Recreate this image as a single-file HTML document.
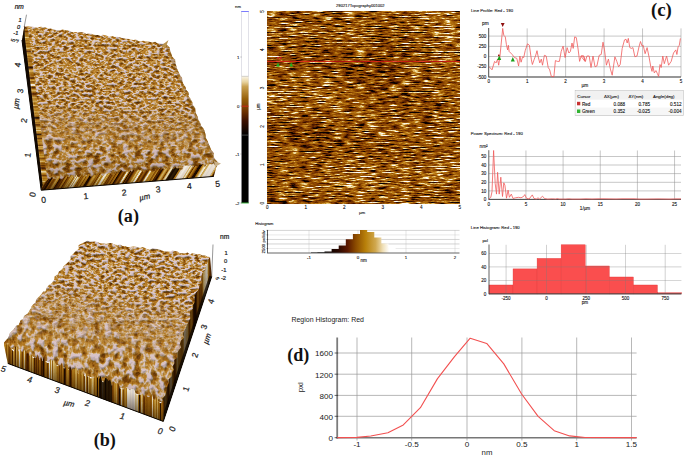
<!DOCTYPE html>
<html lang="en"><head><meta charset="utf-8"><title>AFM figure</title>
<style>
html,body{margin:0;padding:0;background:#fff;}
body{width:685px;height:464px;overflow:hidden;}
svg{display:block;font-family:"Liberation Sans", sans-serif;}
</style></head><body>
<svg width="685" height="464" viewBox="0 0 685 464">
<rect width="685" height="464" fill="#fff"/>
<defs>
<!-- 3D surface grain -->
<filter id="grain" x="0" y="0" width="100%" height="100%" color-interpolation-filters="sRGB">
  <feTurbulence type="fractalNoise" baseFrequency="0.25 0.42" numOctaves="3" seed="7" result="n"/>
  <feColorMatrix in="n" type="matrix" values="2.3 0 0 0 -0.59  2.3 0 0 0 -0.59  2.3 0 0 0 -0.59  0 0 0 0 1" result="g"/>
  <feComponentTransfer in="g" result="pal">
    <feFuncR type="table" tableValues="0.46 0.60 0.70 0.75 0.82 0.88 0.87"/>
    <feFuncG type="table" tableValues="0.25 0.36 0.47 0.53 0.68 0.80 0.79"/>
    <feFuncB type="table" tableValues="0.03 0.07 0.13 0.19 0.45 0.77 0.82"/>
    <feFuncA type="table" tableValues="1 1"/>
  </feComponentTransfer>
  <feColorMatrix in="n" type="matrix" values="0 0 0 0 1  0 0 0 0 1  0 0 0 0 1  1 0 0 0 0" result="h"/>
  <feDiffuseLighting in="h" surfaceScale="1.8" diffuseConstant="1.1" lighting-color="#fff" result="lit">
    <feDistantLight azimuth="250" elevation="68"/>
  </feDiffuseLighting>
  <feBlend in="pal" in2="lit" mode="multiply"/>
</filter>
<filter id="grainB" x="0" y="0" width="100%" height="100%" color-interpolation-filters="sRGB">
  <feTurbulence type="fractalNoise" baseFrequency="0.23 0.38" numOctaves="3" seed="23" result="n"/>
  <feColorMatrix in="n" type="matrix" values="2.3 0 0 0 -0.55  2.3 0 0 0 -0.55  2.3 0 0 0 -0.55  0 0 0 0 1" result="g"/>
  <feComponentTransfer in="g" result="pal">
    <feFuncR type="table" tableValues="0.46 0.60 0.70 0.75 0.82 0.88 0.87"/>
    <feFuncG type="table" tableValues="0.25 0.36 0.47 0.53 0.68 0.80 0.79"/>
    <feFuncB type="table" tableValues="0.03 0.07 0.13 0.19 0.45 0.77 0.82"/>
    <feFuncA type="table" tableValues="1 1"/>
  </feComponentTransfer>
  <feColorMatrix in="n" type="matrix" values="0 0 0 0 1  0 0 0 0 1  0 0 0 0 1  1 0 0 0 0" result="h"/>
  <feDiffuseLighting in="h" surfaceScale="1.8" diffuseConstant="1.1" lighting-color="#fff" result="lit">
    <feDistantLight azimuth="250" elevation="68"/>
  </feDiffuseLighting>
  <feBlend in="pal" in2="lit" mode="multiply"/>
</filter>
<filter id="grainC" x="0" y="0" width="100%" height="100%" color-interpolation-filters="sRGB">
  <feTurbulence type="fractalNoise" baseFrequency="0.17 0.13" numOctaves="3" seed="31" result="n"/>
  <feColorMatrix in="n" type="matrix" values="2.3 0 0 0 -0.55  2.3 0 0 0 -0.55  2.3 0 0 0 -0.55  0 0 0 0 1" result="g"/>
  <feComponentTransfer in="g" result="pal">
    <feFuncR type="table" tableValues="0.46 0.60 0.70 0.75 0.82 0.88 0.87"/>
    <feFuncG type="table" tableValues="0.25 0.36 0.47 0.53 0.68 0.80 0.79"/>
    <feFuncB type="table" tableValues="0.03 0.07 0.13 0.19 0.45 0.77 0.82"/>
    <feFuncA type="table" tableValues="1 1"/>
  </feComponentTransfer>
  <feColorMatrix in="n" type="matrix" values="0 0 0 0 1  0 0 0 0 1  0 0 0 0 1  1 0 0 0 0" result="h"/>
  <feDiffuseLighting in="h" surfaceScale="2.6" diffuseConstant="1.1" lighting-color="#fff" result="lit">
    <feDistantLight azimuth="250" elevation="68"/>
  </feDiffuseLighting>
  <feBlend in="pal" in2="lit" mode="multiply"/>
</filter>
<filter id="grainD" x="0" y="0" width="100%" height="100%" color-interpolation-filters="sRGB">
  <feTurbulence type="fractalNoise" baseFrequency="0.17 0.22" numOctaves="3" seed="41" result="n"/>
  <feColorMatrix in="n" type="matrix" values="2.3 0 0 0 -0.59  2.3 0 0 0 -0.59  2.3 0 0 0 -0.59  0 0 0 0 1" result="g"/>
  <feComponentTransfer in="g" result="pal">
    <feFuncR type="table" tableValues="0.46 0.60 0.70 0.75 0.82 0.88 0.87"/>
    <feFuncG type="table" tableValues="0.25 0.36 0.47 0.53 0.68 0.80 0.79"/>
    <feFuncB type="table" tableValues="0.03 0.07 0.13 0.19 0.45 0.77 0.82"/>
    <feFuncA type="table" tableValues="1 1"/>
  </feComponentTransfer>
  <feColorMatrix in="n" type="matrix" values="0 0 0 0 1  0 0 0 0 1  0 0 0 0 1  1 0 0 0 0" result="h"/>
  <feDiffuseLighting in="h" surfaceScale="2.2" diffuseConstant="1.1" lighting-color="#fff" result="lit">
    <feDistantLight azimuth="250" elevation="68"/>
  </feDiffuseLighting>
  <feBlend in="pal" in2="lit" mode="multiply"/>
</filter>
<linearGradient id="mgB" x1="0.55" y1="0" x2="0.35" y2="1">
  <stop offset="0.30" stop-color="#fff" stop-opacity="0"/>
  <stop offset="0.68" stop-color="#fff" stop-opacity="1"/>
</linearGradient>
<mask id="maskB"><rect x="0" y="236" width="216" height="172" fill="url(#mgB)"/></mask>
<linearGradient id="mgA" x1="0.5" y1="0" x2="0.45" y2="1">
  <stop offset="0.5" stop-color="#fff" stop-opacity="0"/>
  <stop offset="0.78" stop-color="#fff" stop-opacity="1"/>
</linearGradient>
<mask id="maskA"><rect x="18" y="20" width="206" height="170" fill="url(#mgA)"/></mask>
<!-- 2D streaky image -->
<filter id="streak" x="0" y="0" width="100%" height="100%" color-interpolation-filters="sRGB">
  <feTurbulence type="fractalNoise" baseFrequency="0.09 0.8" numOctaves="4" seed="11" result="n0"/>
  <feColorMatrix in="n0" type="matrix" values="1 0 0 0 0  1 0 0 0 0  1 0 0 0 0  0 0 0 0 1" result="n"/>
  <feTurbulence type="fractalNoise" baseFrequency="0.012 0.025" numOctaves="2" seed="5" result="lo0"/>
  <feColorMatrix in="lo0" type="matrix" values="1 0 0 0 0  1 0 0 0 0  1 0 0 0 0  0 0 0 0 1" result="lo"/>
  <feComposite in="n" in2="lo" operator="arithmetic" k1="0" k2="1" k3="0.2" k4="-0.1" result="m"/>
  <feColorMatrix in="m" type="matrix" values="1.75 0 0 0 -0.425  1.75 0 0 0 -0.425  1.75 0 0 0 -0.425  0 0 0 0 1" result="g"/>
  <feComponentTransfer in="g">
    <feFuncR type="table" tableValues="0.03 0.30 0.50 0.61 0.75 0.94 1"/>
    <feFuncG type="table" tableValues="0.00 0.09 0.23 0.34 0.50 0.85 1"/>
    <feFuncB type="table" tableValues="0.00 0.00 0.00 0.02 0.09 0.58 1"/>
    <feFuncA type="table" tableValues="1 1"/>
  </feComponentTransfer>
</filter>
<!-- vertical striped wall -->
<filter id="wall" x="0" y="0" width="100%" height="100%" color-interpolation-filters="sRGB">
  <feTurbulence type="fractalNoise" baseFrequency="0.22 0.002" numOctaves="2" seed="3" result="n"/>
  <feColorMatrix in="n" type="matrix" values="2.4 0 0 0 -0.72  2.4 0 0 0 -0.72  2.4 0 0 0 -0.72  0 0 0 0 1" result="g"/>
  <feComponentTransfer in="g">
    <feFuncR type="table" tableValues="0.10 0.36 0.56 0.68 0.76 0.88 0.98"/>
    <feFuncG type="table" tableValues="0.04 0.16 0.33 0.46 0.56 0.76 0.96"/>
    <feFuncB type="table" tableValues="0.00 0.00 0.03 0.08 0.16 0.45 0.90"/>
    <feFuncA type="table" tableValues="1 1"/>
  </feComponentTransfer>
</filter>
<filter id="wallH" x="0" y="0" width="100%" height="100%" color-interpolation-filters="sRGB">
  <feTurbulence type="fractalNoise" baseFrequency="0.002 0.30" numOctaves="2" seed="9" result="n"/>
  <feColorMatrix in="n" type="matrix" values="2.4 0 0 0 -0.72  2.4 0 0 0 -0.72  2.4 0 0 0 -0.72  0 0 0 0 1" result="g"/>
  <feComponentTransfer in="g">
    <feFuncR type="table" tableValues="0.10 0.36 0.56 0.68 0.76 0.88 0.98"/>
    <feFuncG type="table" tableValues="0.04 0.16 0.33 0.46 0.56 0.76 0.96"/>
    <feFuncB type="table" tableValues="0.00 0.00 0.03 0.08 0.16 0.45 0.90"/>
    <feFuncA type="table" tableValues="1 1"/>
  </feComponentTransfer>
</filter>
<linearGradient id="cbar" x1="0" y1="0" x2="0" y2="1">
  <stop offset="0" stop-color="#fbf6ea"/>
  <stop offset="0.10" stop-color="#e8d4a0"/>
  <stop offset="0.18" stop-color="#c8a050"/>
  <stop offset="0.39" stop-color="#96600a"/>
  <stop offset="0.60" stop-color="#6e3200"/>
  <stop offset="0.76" stop-color="#3c1000"/>
  <stop offset="1" stop-color="#000000"/>
</linearGradient>
<linearGradient id="hbar" x1="0" y1="0" x2="1" y2="0">
  <stop offset="0.14" stop-color="#000"/>
  <stop offset="0.30" stop-color="#2a0800"/>
  <stop offset="0.40" stop-color="#5a1800"/>
  <stop offset="0.49" stop-color="#8a4a00"/>
  <stop offset="0.60" stop-color="#b8800a"/>
  <stop offset="0.71" stop-color="#d0a850"/>
  <stop offset="0.79" stop-color="#f0e0b8"/>
  <stop offset="0.86" stop-color="#fff"/>
</linearGradient>
<linearGradient id="shadeA" x1="0" y1="0" x2="0" y2="1">
  <stop offset="0" stop-color="#5a3000" stop-opacity="0"/>
  <stop offset="0.75" stop-color="#5a3000" stop-opacity="0.05"/>
  <stop offset="1" stop-color="#3a1a00" stop-opacity="0.35"/>
</linearGradient>
<linearGradient id="rwshade" x1="0" y1="0" x2="0" y2="1">
  <stop offset="0" stop-color="#1a0a00" stop-opacity="0.15"/>
  <stop offset="0.35" stop-color="#1a0a00" stop-opacity="0.55"/>
  <stop offset="1" stop-color="#0c0400" stop-opacity="0.8"/>
</linearGradient>
<linearGradient id="wallshade" x1="0" y1="0" x2="0" y2="1">
  <stop offset="0" stop-color="#2a1200" stop-opacity="0"/>
  <stop offset="0.5" stop-color="#2a1200" stop-opacity="0.1"/>
  <stop offset="1" stop-color="#140800" stop-opacity="0.75"/>
</linearGradient>
<linearGradient id="shadeB" x1="0.6" y1="0" x2="0.3" y2="1">
  <stop offset="0" stop-color="#5a3000" stop-opacity="0"/>
  <stop offset="0.7" stop-color="#5a3000" stop-opacity="0.04"/>
  <stop offset="1" stop-color="#3a1a00" stop-opacity="0.25"/>
</linearGradient>
<clipPath id="clipA"><polygon points="24.4,26.0 26.8,25.9 29.2,26.5 31.5,26.3 33.9,27.0 36.3,27.5 38.7,27.2 41.0,26.7 43.4,27.2 45.8,27.6 48.2,28.8 50.5,28.6 52.9,29.3 55.3,29.8 57.7,30.2 60.0,30.4 62.4,29.5 64.8,30.0 67.2,30.3 69.6,30.7 71.9,32.0 74.3,32.1 76.7,31.9 79.1,32.0 81.4,32.2 83.8,32.4 86.2,34.0 88.6,33.5 90.9,33.7 93.3,34.3 95.7,35.1 98.1,35.0 100.5,35.9 102.8,34.8 105.2,35.3 107.6,36.1 110.0,36.8 112.3,36.1 114.7,37.0 117.1,36.8 119.5,37.2 121.8,38.0 124.2,38.5 126.6,38.5 129.0,39.1 131.3,39.8 133.7,39.9 136.1,39.4 138.5,41.0 140.9,41.3 143.2,40.7 145.6,41.5 148.0,41.4 150.4,41.9 152.7,42.4 155.1,41.6 157.5,43.2 159.9,43.2 162.2,43.8 164.6,43.5 167.0,44.8 169.8,47.8 170.2,50.8 171.3,53.8 172.2,56.8 175.2,59.8 175.3,62.8 176.2,65.8 177.1,68.8 178.4,71.8 179.8,74.8 182.1,77.9 182.3,80.9 183.3,83.9 185.5,86.9 186.2,89.9 189.0,92.9 188.5,95.9 190.6,98.9 192.3,101.9 192.8,104.9 195.2,107.9 195.5,110.9 196.2,113.9 197.8,116.9 198.3,119.9 200.3,122.9 201.2,125.9 203.8,128.9 204.9,131.9 205.5,134.9 205.8,138.0 207.5,141.0 208.7,144.0 209.9,147.0 211.2,150.0 213.7,153.0 213.5,156.0 214.6,159.0 217.6,162.0 217.0,165.0 217.0,167.0 43.3,182.0"/></clipPath>
<clipPath id="clipAw1"><polygon points="43.3,179.0 45.0,177.4 46.8,180.5 48.5,178.4 50.2,178.9 52.0,177.0 53.7,179.0 55.5,179.2 57.2,177.9 58.9,175.6 60.7,179.3 62.4,179.1 64.1,176.7 65.9,175.4 67.6,176.9 69.4,177.1 71.1,175.1 72.8,175.3 74.6,178.3 76.3,174.6 78.0,177.4 79.8,176.8 81.5,174.3 83.3,176.0 85.0,174.2 86.7,176.8 88.5,173.6 90.2,176.5 91.9,176.5 93.7,174.8 95.4,175.4 97.1,174.3 98.9,172.6 100.6,173.3 102.4,176.2 104.1,174.8 105.8,173.6 107.6,173.7 109.3,172.5 111.0,173.4 112.8,175.1 114.5,174.2 116.3,171.4 118.0,173.4 119.7,171.4 121.5,170.3 123.2,171.8 124.9,171.4 126.7,171.6 128.4,172.7 130.1,169.9 131.9,171.8 133.6,169.6 135.4,172.2 137.1,169.6 138.8,169.8 140.6,170.4 142.3,171.0 144.0,172.2 145.8,169.3 147.5,170.9 149.3,169.4 151.0,171.6 152.7,171.7 154.5,171.3 156.2,168.2 157.9,170.8 159.7,167.5 161.4,169.7 163.2,168.7 164.9,169.5 166.6,168.2 168.4,170.3 170.1,168.8 171.8,166.4 173.6,169.5 175.3,167.3 177.0,168.6 178.8,168.6 180.5,169.6 182.3,169.5 184.0,165.3 185.7,165.7 187.5,165.6 189.2,165.5 190.9,164.7 192.7,168.0 194.4,166.0 196.2,166.3 197.9,165.8 199.6,164.0 201.4,164.7 203.1,163.6 204.8,167.2 206.6,164.7 208.3,164.5 210.1,164.0 211.8,164.4 213.5,163.3 215.3,165.5 217.0,164.5 213.8,176.4 41.2,190.2"/></clipPath>

<clipPath id="clipB"><polygon points="85.0,242.0 87.5,240.4 90.0,241.8 92.5,241.7 95.0,241.4 97.5,242.1 100.0,243.2 102.5,243.6 105.0,243.7 107.5,243.4 110.0,243.0 112.5,243.5 115.0,244.8 117.5,245.1 120.0,244.6 122.5,245.9 125.0,246.0 127.5,247.1 130.0,247.0 132.5,246.6 135.0,246.6 137.5,247.1 140.0,247.9 142.5,247.0 145.0,248.0 147.5,249.2 150.0,249.7 152.5,248.2 155.0,248.4 157.5,248.9 160.0,249.8 162.5,250.7 165.0,251.4 167.5,251.4 170.0,251.8 172.5,250.6 175.0,251.0 177.5,251.5 180.0,253.1 182.5,253.2 185.0,253.4 187.5,252.4 190.0,254.3 192.5,253.3 195.0,253.8 197.5,254.4 200.0,253.9 202.5,255.6 205.0,255.4 207.5,256.4 210.0,257.0 166.0,404.0 4.0,346.0 4.0,342.8 6.7,339.6 8.3,337.7 10.0,333.1 12.4,330.7 13.8,329.5 16.1,325.7 18.7,324.9 20.7,320.3 23.5,318.4 24.0,315.9 28.2,313.2 29.7,310.1 30.7,308.8 32.1,305.4 35.6,302.3 36.2,299.6 38.2,297.6 40.7,295.1 43.2,291.5 45.6,291.2 46.8,287.6 49.2,284.7 52.0,283.1 54.4,279.0 54.4,276.7 58.4,273.4 58.6,271.9 62.7,268.5 63.2,266.4 66.7,263.6 68.7,261.6 70.5,259.3 70.6,255.7 72.8,254.3 75.9,250.9 78.8,248.8 78.5,245.3 80.8,243.9 85.0,242.0"/></clipPath>
<clipPath id="clipBw1"><polygon points="4.0,345.0 5.6,344.3 7.2,344.3 8.8,345.4 10.4,347.7 12.1,349.9 13.7,351.5 15.3,346.5 16.9,346.8 18.5,351.6 20.1,349.1 21.7,351.9 23.3,351.0 24.9,350.2 26.5,354.1 28.1,352.8 29.8,355.7 31.4,354.6 33.0,358.3 34.6,357.3 36.2,357.8 37.8,354.3 39.4,359.9 41.0,356.5 42.6,361.3 44.2,356.1 45.9,362.0 47.5,363.0 49.1,362.8 50.7,358.8 52.3,361.0 53.9,360.2 55.5,363.2 57.1,366.3 58.7,365.4 60.3,365.2 62.0,362.4 63.6,368.2 65.2,368.3 66.8,365.0 68.4,370.3 70.0,365.4 71.6,370.2 73.2,369.1 74.8,369.1 76.5,368.0 78.1,373.9 79.7,369.6 81.3,374.4 82.9,371.5 84.5,376.5 86.1,372.4 87.7,376.7 89.3,377.1 90.9,378.8 92.6,377.5 94.2,378.0 95.8,374.4 97.4,377.4 99.0,379.5 100.6,376.1 102.2,381.9 103.8,382.2 105.4,378.0 107.0,378.6 108.7,380.9 110.3,379.6 111.9,386.0 113.5,381.2 115.1,383.0 116.7,383.8 118.3,383.3 119.9,388.6 121.5,388.5 123.1,389.5 124.8,387.9 126.4,388.0 128.0,388.6 129.6,390.3 131.2,388.5 132.8,388.4 134.4,389.5 136.0,394.7 137.6,394.5 139.2,394.7 140.8,395.1 142.5,393.5 144.1,396.5 145.7,394.4 147.3,396.7 148.9,397.2 150.5,395.5 152.1,394.6 153.7,400.0 155.3,399.6 156.9,396.1 158.6,401.6 160.2,403.3 161.8,402.8 163.4,399.3 165.0,402.0 163.3,421.4 7.8,363.4"/></clipPath>
<clipPath id="clipBw2"><polygon points="164.0,402.0 162.2,398.8 165.3,395.6 166.1,392.3 166.5,389.1 167.5,385.9 169.0,382.7 168.6,379.4 171.6,376.2 171.8,373.0 173.9,369.8 172.6,366.6 174.5,363.3 174.3,360.1 177.9,356.9 177.2,353.7 178.6,350.4 181.2,347.2 179.9,344.0 180.8,340.8 184.2,337.6 182.6,334.3 184.1,331.1 185.7,327.9 186.9,324.7 188.8,321.4 190.4,318.2 190.2,315.0 190.0,311.8 193.0,308.6 193.2,305.3 194.8,302.1 194.6,298.9 194.9,295.7 196.1,292.4 198.9,289.2 199.5,286.0 201.8,282.8 201.3,279.6 201.3,276.3 202.4,273.1 205.7,269.9 205.6,266.7 207.7,263.4 207.7,260.2 210.0,257.0 211.7,276.5 163.3,421.4"/></clipPath>
</defs>

<g id="panelA">
<g clip-path="url(#clipA)"><rect x="18" y="20" width="206" height="170" filter="url(#grain)"/><g mask="url(#maskA)"><rect x="18" y="20" width="206" height="170" filter="url(#grainD)"/></g><rect x="18" y="20" width="206" height="170" fill="url(#shadeA)"/></g>
<g clip-path="url(#clipAw1)"><g transform="translate(0 192) skewX(-32) translate(0 -192) scale(0.62 1)"><rect x="30" y="160" width="380" height="36" filter="url(#wall)"/></g><g transform="translate(0 192) skewX(-32) translate(0 -192)"><rect x="158" y="160" width="7" height="36" fill="#080300" opacity="0.8"/><rect x="167" y="160" width="7" height="36" fill="#fff" opacity="0.85"/><rect x="192" y="160" width="8" height="36" fill="#fff" opacity="0.85"/></g><rect x="20" y="160" width="230" height="36" fill="url(#wallshade)"/></g>
<clipPath id="clipAw2"><polygon points="24.4,26 28.2,30 47.3,180 43.3,183 41.2,190.2 22,40"/></clipPath>
<g clip-path="url(#clipAw2)"><rect x="20" y="24" width="30" height="170" filter="url(#wallH)" opacity="0.85"/></g>
<polygon points="24.4,26 24.9,38 42.6,184 41.2,190.2 22,40" fill="#120802"/>
<polyline points="22,40 41.2,190.2 213.8,176.4" fill="none" stroke="#0a0500" stroke-width="1"/>
<g clip-path="url(#clipA)"><polyline points="167,44.8 217,165" fill="none" stroke="#8a5a14" stroke-width="4" opacity="0.45"/></g>
<polygon points="161,46 168.5,40 165.5,48" fill="#b8924e"/>
<polygon points="214,161 221,163.5 215,167" fill="#c8b088"/>
</g>
<line x1="26.5" y1="14.7" x2="24.2" y2="27" stroke="#333" stroke-width="0.5" />
<text x="19.3" y="8.58" font-size="6.6" text-anchor="middle" fill="#222" font-style="italic" stroke="#222" stroke-width="0.22">nm</text>
<text x="20" y="21.72" font-size="5.6" text-anchor="middle" fill="#222" font-style="italic" stroke="#222" stroke-width="0.22">1</text>
<text x="18.5" y="28.52" font-size="5.6" text-anchor="middle" fill="#222" font-style="italic" stroke="#222" stroke-width="0.22">0</text>
<text x="15.8" y="35.02" font-size="5.6" text-anchor="middle" fill="#222" font-style="italic" stroke="#222" stroke-width="0.22">-1</text>
<text x="13" y="42.32" font-size="5.6" text-anchor="middle" fill="#222" transform="rotate(-75 13 40.3)" stroke="#222" stroke-width="0.22">5</text>
<text x="17" y="42.51" font-size="4.2" text-anchor="middle" fill="#222" transform="rotate(-75 17 41)" stroke="#222" stroke-width="0.22">-2</text>
<text x="17.5" y="67.79" font-size="8.3" text-anchor="middle" fill="#222" transform="rotate(-82 17.5 64.8)" stroke="#222" stroke-width="0.22">4</text>
<text x="20.2" y="93.99" font-size="8.3" text-anchor="middle" fill="#222" transform="rotate(-82 20.2 91)" stroke="#222" stroke-width="0.22">3</text>
<text x="16.2" y="106.31" font-size="7.8" text-anchor="middle" fill="#222" font-style="italic" transform="rotate(-82 16.2 103.5)" stroke="#222" stroke-width="0.22">µm</text>
<text x="23.75" y="123.59" font-size="8.3" text-anchor="middle" fill="#222" transform="rotate(-82 23.75 120.6)" stroke="#222" stroke-width="0.22">2</text>
<text x="27.6" y="157.99" font-size="8.3" text-anchor="middle" fill="#222" transform="rotate(-82 27.6 155)" stroke="#222" stroke-width="0.22">1</text>
<text x="32.5" y="197.50" font-size="8.6" text-anchor="middle" fill="#222" transform="rotate(-78 32.5 194.4)" stroke="#222" stroke-width="0.22">0</text>
<text x="43.5" y="202.85" font-size="8.6" text-anchor="middle" fill="#222" transform="rotate(-5 43.5 199.75)" stroke="#222" stroke-width="0.22">0</text>
<text x="85.8" y="199.00" font-size="8.6" text-anchor="middle" fill="#222" transform="rotate(-5 85.8 195.9)" stroke="#222" stroke-width="0.22">1</text>
<text x="124" y="195.60" font-size="8.6" text-anchor="middle" fill="#222" transform="rotate(-5 124 192.5)" stroke="#222" stroke-width="0.22">2</text>
<text x="144.6" y="199.61" font-size="7.8" text-anchor="middle" fill="#222" font-style="italic" transform="rotate(-12 144.6 196.8)" stroke="#222" stroke-width="0.22">µm</text>
<text x="158.1" y="192.30" font-size="8.6" text-anchor="middle" fill="#222" transform="rotate(-5 158.1 189.2)" stroke="#222" stroke-width="0.22">3</text>
<text x="189.3" y="189.10" font-size="8.6" text-anchor="middle" fill="#222" transform="rotate(-5 189.3 186)" stroke="#222" stroke-width="0.22">4</text>
<text x="217.5" y="186.80" font-size="8.6" text-anchor="middle" fill="#222" transform="rotate(-5 217.5 183.7)" stroke="#222" stroke-width="0.22">5</text>
<text x="128.4" y="222.2" font-size="18.2" text-anchor="middle" fill="#111" font-family='"Liberation Serif", serif' font-weight="bold" >(a)</text>
<g id="panelB">
<g clip-path="url(#clipB)"><rect x="0" y="236" width="216" height="172" filter="url(#grainB)"/><g mask="url(#maskB)"><rect x="0" y="236" width="216" height="172" filter="url(#grainC)"/></g><rect x="0" y="236" width="216" height="172" fill="url(#shadeB)"/></g>
<g clip-path="url(#clipBw1)"><g transform="scale(0.5 1)"><rect x="0" y="334" width="340" height="90" filter="url(#wall)"/></g><rect x="99" y="370" width="13" height="40" fill="#080300" opacity="0.8"/><rect x="127" y="380" width="8" height="40" fill="#fff" opacity="0.85"/><rect x="135" y="380" width="3" height="40" fill="#e8d8b0" opacity="0.7"/><g transform="rotate(20 8 363)"><rect x="0" y="330" width="180" height="36" fill="url(#wallshade)" opacity="0.7"/></g></g>
<g clip-path="url(#clipBw2)"><rect x="160" y="250" width="56" height="174" filter="url(#wall)"/><rect x="160" y="250" width="56" height="174" fill="url(#rwshade)"/><polyline points="163.3,421.4 211.7,276.5" fill="none" stroke="#0a0400" stroke-width="5" opacity="0.75"/></g>
<polyline points="7.8,363.4 163.3,421.4 211.7,276.5" fill="none" stroke="#0a0500" stroke-width="1"/>
</g>
<line x1="213" y1="244.5" x2="211.7" y2="276.5" stroke="#333" stroke-width="0.5" />
<text x="224.7" y="238.98" font-size="6.6" text-anchor="middle" fill="#222" stroke="#222" stroke-width="0.22">nm</text>
<text x="226.2" y="255.39" font-size="5.8" text-anchor="middle" fill="#222" stroke="#222" stroke-width="0.22">1</text>
<text x="225.6" y="263.39" font-size="5.8" text-anchor="middle" fill="#222" stroke="#222" stroke-width="0.22">0</text>
<text x="223.8" y="271.89" font-size="5.8" text-anchor="middle" fill="#222" stroke="#222" stroke-width="0.22">-1</text>
<text x="223.5" y="280.19" font-size="5.8" text-anchor="middle" fill="#222" stroke="#222" stroke-width="0.22">-2</text>
<text x="217.5" y="280.16" font-size="4.6" text-anchor="middle" fill="#222" transform="rotate(70 217.5 278.5)" stroke="#222" stroke-width="0.22">5</text>
<text x="211" y="304.39" font-size="8.3" text-anchor="middle" fill="#222" transform="rotate(-72 211 301.4)" stroke="#222" stroke-width="0.22">4</text>
<text x="204" y="329.99" font-size="8.3" text-anchor="middle" fill="#222" transform="rotate(-72 204 327)" stroke="#222" stroke-width="0.22">3</text>
<text x="206.8" y="341.41" font-size="7.8" text-anchor="middle" fill="#222" font-style="italic" transform="rotate(-72 206.8 338.6)" stroke="#222" stroke-width="0.22">µm</text>
<text x="194.9" y="357.99" font-size="8.3" text-anchor="middle" fill="#222" transform="rotate(-72 194.9 355)" stroke="#222" stroke-width="0.22">2</text>
<text x="186" y="391.99" font-size="8.3" text-anchor="middle" fill="#222" transform="rotate(-72 186 389)" stroke="#222" stroke-width="0.22">1</text>
<text x="172.1" y="431.80" font-size="8.6" text-anchor="middle" fill="#222" transform="rotate(-65 172.1 428.7)" stroke="#222" stroke-width="0.22">0</text>
<text x="160.2" y="434.10" font-size="8.6" text-anchor="middle" fill="#222" font-style="italic" transform="rotate(12 160.2 431)" stroke="#222" stroke-width="0.22">0</text>
<text x="122.5" y="419.00" font-size="8.6" text-anchor="middle" fill="#222" font-style="italic" transform="rotate(12 122.5 415.9)" stroke="#222" stroke-width="0.22">1</text>
<text x="87.6" y="406.10" font-size="8.6" text-anchor="middle" fill="#222" font-style="italic" transform="rotate(12 87.6 403)" stroke="#222" stroke-width="0.22">2</text>
<text x="69.2" y="406.11" font-size="7.8" text-anchor="middle" fill="#222" font-style="italic" transform="rotate(12 69.2 403.3)" stroke="#222" stroke-width="0.22">µm</text>
<text x="57.2" y="393.20" font-size="8.6" text-anchor="middle" fill="#222" font-style="italic" transform="rotate(12 57.2 390.1)" stroke="#222" stroke-width="0.22">3</text>
<text x="29.7" y="382.60" font-size="8.6" text-anchor="middle" fill="#222" font-style="italic" transform="rotate(12 29.7 379.5)" stroke="#222" stroke-width="0.22">4</text>
<text x="3.6" y="371.90" font-size="8.6" text-anchor="middle" fill="#222" font-style="italic" transform="rotate(12 3.6 368.8)" stroke="#222" stroke-width="0.22">5</text>
<text x="104.75" y="445.7" font-size="18.1" text-anchor="middle" fill="#111" font-family='"Liberation Serif", serif' font-weight="bold" >(b)</text>
<rect x="267.2" y="11.4" width="192.60000000000002" height="191.7" filter="url(#streak)"/>
<line x1="267.2" y1="61.4" x2="459.8" y2="61.4" stroke="#e01818" stroke-width="0.85" />
<polygon points="276.1,66.4 279.9,66.4 278,62.4" fill="#20b020"/>
<polygon points="289.4,66.4 293.0,66.4 291.2,62.6" fill="#20b020"/>
<polygon points="277,57 279.4,57 278.2,60" fill="#c02020"/>
<polygon points="279.5,57 281.9,57 280.7,60" fill="#c02020"/>
<text x="336.1" y="7.0" font-size="4.4" text-anchor="start" fill="#111" stroke="#111" stroke-width="0.1" textLength="48.5" lengthAdjust="spacingAndGlyphs">290217Topography001002</text>
<rect x="241.6" y="11.4" width="6.9" height="191.6" fill="#fff" stroke="#bcbccc" stroke-width="0.45"/>
<rect x="241.6" y="76" width="6.9" height="59" fill="url(#cbar)"/>
<rect x="241.6" y="135" width="6.9" height="68" fill="#000"/>
<line x1="241.3" y1="11.5" x2="248.8" y2="11.5" stroke="#7070ff" stroke-width="0.9" />
<line x1="241.3" y1="203" x2="248.8" y2="203" stroke="#40c040" stroke-width="0.9" />
<line x1="241.6" y1="106.2" x2="248.5" y2="106.2" stroke="#e02020" stroke-width="0.8" />
<line x1="241.6" y1="76.3" x2="248.5" y2="76.3" stroke="#a8a8a8" stroke-width="0.5" />
<line x1="241.6" y1="135.1" x2="248.5" y2="135.1" stroke="#888" stroke-width="0.5" />
<text x="238" y="7.9" font-size="4.2" text-anchor="middle" fill="#111" stroke="#111" stroke-width="0.1" >nm</text>
<text x="239.4" y="58.5" font-size="4.3" text-anchor="end" fill="#111" stroke="#111" stroke-width="0.1" >1</text>
<line x1="240.4" y1="57" x2="241.6" y2="57" stroke="#555" stroke-width="0.4" />
<text x="239.4" y="107.5" font-size="4.3" text-anchor="end" fill="#111" stroke="#111" stroke-width="0.1" >0</text>
<line x1="240.4" y1="106" x2="241.6" y2="106" stroke="#555" stroke-width="0.4" />
<text x="239.4" y="155.5" font-size="4.3" text-anchor="end" fill="#111" stroke="#111" stroke-width="0.1" >-1</text>
<line x1="240.4" y1="154" x2="241.6" y2="154" stroke="#555" stroke-width="0.4" />
<text x="239.4" y="204.5" font-size="4.3" text-anchor="end" fill="#111" stroke="#111" stroke-width="0.1" >-2</text>
<line x1="240.4" y1="203" x2="241.6" y2="203" stroke="#555" stroke-width="0.4" />
<text x="267.2" y="208.8" font-size="4.6" text-anchor="middle" fill="#111" stroke="#111" stroke-width="0.1" >0</text>
<line x1="267.2" y1="203.1" x2="267.2" y2="204.4" stroke="#666" stroke-width="0.4" />
<text x="264.3" y="203.1" font-size="4.6" text-anchor="middle" fill="#111" transform="rotate(-90 264.3 203.1)" stroke="#111" stroke-width="0.1" >0</text>
<text x="305.71999999999997" y="208.8" font-size="4.6" text-anchor="middle" fill="#111" stroke="#111" stroke-width="0.1" >1</text>
<line x1="305.71999999999997" y1="203.1" x2="305.71999999999997" y2="204.4" stroke="#666" stroke-width="0.4" />
<text x="264.3" y="164.76" font-size="4.6" text-anchor="middle" fill="#111" transform="rotate(-90 264.3 164.76)" stroke="#111" stroke-width="0.1" >1</text>
<text x="344.24" y="208.8" font-size="4.6" text-anchor="middle" fill="#111" stroke="#111" stroke-width="0.1" >2</text>
<line x1="344.24" y1="203.1" x2="344.24" y2="204.4" stroke="#666" stroke-width="0.4" />
<text x="264.3" y="126.42" font-size="4.6" text-anchor="middle" fill="#111" transform="rotate(-90 264.3 126.42)" stroke="#111" stroke-width="0.1" >2</text>
<text x="382.76" y="208.8" font-size="4.6" text-anchor="middle" fill="#111" stroke="#111" stroke-width="0.1" >3</text>
<line x1="382.76" y1="203.1" x2="382.76" y2="204.4" stroke="#666" stroke-width="0.4" />
<text x="264.3" y="88.08000000000001" font-size="4.6" text-anchor="middle" fill="#111" transform="rotate(-90 264.3 88.08000000000001)" stroke="#111" stroke-width="0.1" >3</text>
<text x="421.28" y="208.8" font-size="4.6" text-anchor="middle" fill="#111" stroke="#111" stroke-width="0.1" >4</text>
<line x1="421.28" y1="203.1" x2="421.28" y2="204.4" stroke="#666" stroke-width="0.4" />
<text x="264.3" y="49.74000000000001" font-size="4.6" text-anchor="middle" fill="#111" transform="rotate(-90 264.3 49.74000000000001)" stroke="#111" stroke-width="0.1" >4</text>
<text x="459.8" y="208.8" font-size="4.6" text-anchor="middle" fill="#111" stroke="#111" stroke-width="0.1" >5</text>
<line x1="459.8" y1="203.1" x2="459.8" y2="204.4" stroke="#666" stroke-width="0.4" />
<text x="264.3" y="11.400000000000006" font-size="4.6" text-anchor="middle" fill="#111" transform="rotate(-90 264.3 11.400000000000006)" stroke="#111" stroke-width="0.1" >5</text>
<text x="362" y="213.5" font-size="4.4" text-anchor="middle" fill="#111" stroke="#111" stroke-width="0.1" >µm</text>
<text x="259.6" y="106.6" font-size="4.6" text-anchor="middle" fill="#111" transform="rotate(-90 259.6 106.6)" stroke="#111" stroke-width="0.1" >µm</text>
<text x="255.2" y="225.0" font-size="4.4" text-anchor="start" fill="#111" stroke="#111" stroke-width="0.1" textLength="18.2" lengthAdjust="spacingAndGlyphs">Histogram</text>
<line x1="267.5" y1="230.4" x2="459.5" y2="230.4" stroke="#a8a8a8" stroke-width="0.5" />
<line x1="266.7" y1="230.4" x2="268.1" y2="230.4" stroke="#222" stroke-width="0.6" />
<line x1="267.5" y1="234.92000000000002" x2="459.5" y2="234.92000000000002" stroke="#d4d4d4" stroke-width="0.5" />
<line x1="266.7" y1="234.92000000000002" x2="268.1" y2="234.92000000000002" stroke="#222" stroke-width="0.6" />
<line x1="267.5" y1="239.44" x2="459.5" y2="239.44" stroke="#a8a8a8" stroke-width="0.5" />
<line x1="266.7" y1="239.44" x2="268.1" y2="239.44" stroke="#222" stroke-width="0.6" />
<line x1="267.5" y1="243.96" x2="459.5" y2="243.96" stroke="#a8a8a8" stroke-width="0.5" />
<line x1="266.7" y1="243.96" x2="268.1" y2="243.96" stroke="#222" stroke-width="0.6" />
<line x1="267.5" y1="248.48000000000002" x2="459.5" y2="248.48000000000002" stroke="#d4d4d4" stroke-width="0.5" />
<line x1="266.7" y1="248.48000000000002" x2="268.1" y2="248.48000000000002" stroke="#222" stroke-width="0.6" />
<line x1="309" y1="230" x2="309" y2="253" stroke="#bbb" stroke-width="0.4" />
<text x="309" y="258.6" font-size="4.4" text-anchor="middle" fill="#111" stroke="#111" stroke-width="0.1" >-1</text>
<line x1="358" y1="230" x2="358" y2="253" stroke="#bbb" stroke-width="0.4" />
<text x="358" y="258.6" font-size="4.4" text-anchor="middle" fill="#111" stroke="#111" stroke-width="0.1" >0</text>
<line x1="406" y1="230" x2="406" y2="253" stroke="#bbb" stroke-width="0.4" />
<text x="406" y="258.6" font-size="4.4" text-anchor="middle" fill="#111" stroke="#111" stroke-width="0.1" >1</text>
<line x1="455" y1="230" x2="455" y2="253" stroke="#bbb" stroke-width="0.4" />
<text x="455" y="258.6" font-size="4.4" text-anchor="middle" fill="#111" stroke="#111" stroke-width="0.1" >2</text>
<clipPath id="hclip">
<rect x="310.3" y="252.5" width="7.2" height="0.5"/>
<rect x="317.4" y="252.3" width="7.2" height="0.7"/>
<rect x="324.5" y="251.6" width="7.2" height="1.4"/>
<rect x="331.6" y="249.1" width="7.2" height="3.9"/>
<rect x="338.7" y="245.4" width="7.2" height="7.6"/>
<rect x="345.8" y="239.2" width="7.2" height="13.8"/>
<rect x="352.9" y="233.9" width="7.2" height="19.1"/>
<rect x="360.0" y="230.0" width="7.2" height="23.0"/>
<rect x="367.1" y="232.1" width="7.2" height="20.9"/>
<rect x="374.2" y="237.6" width="7.2" height="15.4"/>
<rect x="381.3" y="243.6" width="7.2" height="9.4"/>
<rect x="388.4" y="247.9" width="7.2" height="5.1"/>
<rect x="395.5" y="251.2" width="7.2" height="1.8"/>
</clipPath>
<rect x="311" y="230" width="91" height="23" fill="url(#hbar)" clip-path="url(#hclip)"/>
<line x1="267.5" y1="230" x2="267.5" y2="253.3" stroke="#333" stroke-width="0.8" />
<line x1="267.5" y1="253" x2="459.5" y2="253" stroke="#555" stroke-width="0.9" />
<text x="363.6" y="262.2" font-size="4.6" text-anchor="middle" fill="#111" stroke="#111" stroke-width="0.1" >nm</text>
<text x="265.2" y="253.4" font-size="4.1" text-anchor="start" fill="#111" transform="rotate(-90 265.2 253.4)" stroke="#111" stroke-width="0.1" textLength="23.2" lengthAdjust="spacingAndGlyphs">2500 pxl/div</text>
<text x="471" y="12.1" font-size="4.3" text-anchor="start" fill="#111" stroke="#111" stroke-width="0.1" textLength="42" lengthAdjust="spacingAndGlyphs">Line Profile: Red  -  190</text>
<text x="650.9" y="15.5" font-size="18.8" text-anchor="start" fill="#111" font-family='"Liberation Serif", serif' font-weight="bold" >(c)</text>
<line x1="488.7" y1="36.1" x2="681" y2="36.1" stroke="#8f8f8f" stroke-width="0.5" />
<text x="486.4" y="37.7" font-size="4.55" text-anchor="end" fill="#111" stroke="#111" stroke-width="0.1" >500</text>
<line x1="488.7" y1="46.4" x2="681" y2="46.4" stroke="#8f8f8f" stroke-width="0.5" />
<text x="486.4" y="48.0" font-size="4.55" text-anchor="end" fill="#111" stroke="#111" stroke-width="0.1" >250</text>
<line x1="488.7" y1="56.5" x2="681" y2="56.5" stroke="#8f8f8f" stroke-width="0.5" />
<text x="486.4" y="58.1" font-size="4.55" text-anchor="end" fill="#111" stroke="#111" stroke-width="0.1" >0</text>
<line x1="488.7" y1="66.8" x2="681" y2="66.8" stroke="#8f8f8f" stroke-width="0.5" />
<text x="486.4" y="68.39999999999999" font-size="4.55" text-anchor="end" fill="#111" stroke="#111" stroke-width="0.1" >-250</text>
<line x1="488.7" y1="77" x2="681" y2="77" stroke="#8f8f8f" stroke-width="0.5" />
<text x="486.4" y="78.6" font-size="4.55" text-anchor="end" fill="#111" stroke="#111" stroke-width="0.1" >-500</text>
<text x="488.7" y="83.3" font-size="4.5" text-anchor="middle" fill="#111" stroke="#111" stroke-width="0.1" >0</text>
<line x1="527.16" y1="28.4" x2="527.16" y2="77" stroke="#8f8f8f" stroke-width="0.5" />
<text x="527.16" y="83.3" font-size="4.5" text-anchor="middle" fill="#111" stroke="#111" stroke-width="0.1" >1</text>
<line x1="565.62" y1="28.4" x2="565.62" y2="77" stroke="#8f8f8f" stroke-width="0.5" />
<text x="565.62" y="83.3" font-size="4.5" text-anchor="middle" fill="#111" stroke="#111" stroke-width="0.1" >2</text>
<line x1="604.08" y1="28.4" x2="604.08" y2="77" stroke="#8f8f8f" stroke-width="0.5" />
<text x="604.08" y="83.3" font-size="4.5" text-anchor="middle" fill="#111" stroke="#111" stroke-width="0.1" >3</text>
<line x1="642.54" y1="28.4" x2="642.54" y2="77" stroke="#8f8f8f" stroke-width="0.5" />
<text x="642.54" y="83.3" font-size="4.5" text-anchor="middle" fill="#111" stroke="#111" stroke-width="0.1" >4</text>
<line x1="681.0" y1="28.4" x2="681.0" y2="77" stroke="#8f8f8f" stroke-width="0.5" />
<text x="681.0" y="83.3" font-size="4.5" text-anchor="middle" fill="#111" stroke="#111" stroke-width="0.1" >5</text>
<line x1="488.7" y1="28" x2="488.7" y2="77.3" stroke="#3a3a3a" stroke-width="0.9" />
<line x1="488.7" y1="77" x2="681" y2="77" stroke="#3a3a3a" stroke-width="0.9" />
<text x="485.4" y="25.2" font-size="4.8" text-anchor="middle" fill="#111" stroke="#111" stroke-width="0.1" >pm</text>
<text x="585" y="87.0" font-size="4.8" text-anchor="middle" fill="#111" stroke="#111" stroke-width="0.1" >µm</text>
<polyline fill="none" stroke="#f05a5a" stroke-width="0.8" stroke-linejoin="round" points="489.2,66.8 492.0,69.8 494.6,61.4 496.1,62.9 497.6,59.1 498.7,65.2 499.9,56.8 502.7,28.4 503.8,35.3 505.3,36.9 506.4,44.5 507.6,49.9 508.4,45.3 509.1,51.4 512.2,54.5 514.5,57.6 516.8,58.3 518.6,66.0 519.9,56.0 521.1,62.2 522.6,56.8 523.7,57.6 525.2,50.7 527.5,43.8 529.4,45.3 531.4,59.9 532.4,64.5 534.0,59.9 535.5,56.0 537.0,50.7 538.2,56.8 539.8,62.9 541.3,59.1 542.5,65.2 544.4,55.3 546.2,56.0 548.2,67.5 549.7,69.8 551.3,76.4 553.9,76.7 555.4,60.6 557.4,61.4 559.4,61.4 561.2,51.4 563.1,46.1 565.1,57.6 567.1,47.6 568.9,53.0 570.4,51.4 572.0,43.0 573.2,48.4 574.7,36.9 576.3,37.6 578.1,49.1 579.6,61.4 581.2,56.0 583.5,56.0 585.0,61.4 580.8,56.0 583.8,56.0 585.4,61.4 586.9,56.0 589.2,56.0 591.0,67.5 593.0,56.0 595.0,66.8 596.9,66.0 599.2,55.3 601.2,54.5 603.0,42.2 604.5,49.9 606.4,65.2 608.4,59.1 610.4,69.1 612.2,75.2 614.9,56.8 616.8,61.4 618.6,66.8 620.2,64.5 622.2,48.4 624.5,39.9 626.0,39.2 627.2,43.0 628.3,38.4 629.8,47.6 631.4,48.4 632.9,47.6 634.9,56.8 637.0,56.0 639.0,46.8 640.5,41.5 642.1,46.1 643.2,45.3 645.1,53.7 647.1,47.6 649.0,56.8 650.8,66.8 652.0,71.4 652.8,66.0 654.3,72.9 655.9,70.6 657.4,73.6 658.6,76.4 660.0,64.5 661.2,67.5 662.8,56.0 664.3,63.7 666.6,56.0 668.6,65.2 671.2,61.4 673.5,53.0 675.8,49.9 676.9,54.5 678.1,46.8 679.3,45.3 680.4,38.4"/>
<polygon points="500.8,23.0 504.6,23.0 502.7,26.9" fill="#8e1010"/>
<polygon points="497.2,60.0 501.2,60.0 499.2,55.6" fill="#18a018"/>
<polygon points="510.8,61.4 514.8,61.4 512.8,57.0" fill="#18a018"/>
<rect x="498" y="54.6" width="1.6" height="1.6" fill="#a01818"/>
<rect x="575.2" y="90.5" width="108.09999999999991" height="24.900000000000006" fill="#fff" stroke="#c4c4c4" stroke-width="0.7"/>
<rect x="575.6" y="90.9" width="107.29999999999991" height="8.8" fill="#f1f1f1"/>
<rect x="575.6" y="107.6" width="107.29999999999991" height="7.4" fill="#f6f6f6"/>
<text x="577.3" y="97.7" font-size="4.4" text-anchor="start" fill="#111" stroke="#111" stroke-width="0.1" >Cursor</text>
<text x="603.9" y="97.7" font-size="4.4" text-anchor="start" fill="#111" stroke="#111" stroke-width="0.1" >ΔX(µm)</text>
<text x="628.4" y="97.7" font-size="4.4" text-anchor="start" fill="#111" stroke="#111" stroke-width="0.1" >ΔY(nm)</text>
<text x="653" y="97.7" font-size="4.4" text-anchor="start" fill="#111" stroke="#111" stroke-width="0.1" >Angle(deg)</text>
<rect x="577" y="101.8" width="3.3" height="3.5" fill="#c83232"/>
<text x="582" y="105.5" font-size="4.6" text-anchor="start" fill="#111" stroke="#111" stroke-width="0.1" >Red</text>
<text x="625.1" y="105.5" font-size="4.6" text-anchor="end" fill="#111" stroke="#111" stroke-width="0.1" >0.088</text>
<text x="650" y="105.5" font-size="4.6" text-anchor="end" fill="#111" stroke="#111" stroke-width="0.1" >0.785</text>
<text x="681.5" y="105.5" font-size="4.6" text-anchor="end" fill="#111" stroke="#111" stroke-width="0.1" >0.512</text>
<rect x="577" y="109.5" width="3.3" height="3.5" fill="#32b432"/>
<text x="582" y="113.2" font-size="4.6" text-anchor="start" fill="#111" stroke="#111" stroke-width="0.1" >Green</text>
<text x="625.1" y="113.2" font-size="4.6" text-anchor="end" fill="#111" stroke="#111" stroke-width="0.1" >0.352</text>
<text x="650" y="113.2" font-size="4.6" text-anchor="end" fill="#111" stroke="#111" stroke-width="0.1" >-0.025</text>
<text x="681.5" y="113.2" font-size="4.6" text-anchor="end" fill="#111" stroke="#111" stroke-width="0.1" >-0.004</text>
<text x="470.8" y="134.6" font-size="4.3" text-anchor="start" fill="#111" stroke="#111" stroke-width="0.1" textLength="52" lengthAdjust="spacingAndGlyphs">Power Spectrum: Red  -  190</text>
<text x="483.6" y="147.8" font-size="4.7" text-anchor="middle" fill="#111" stroke="#111" stroke-width="0.1" >nm²</text>
<line x1="488.8" y1="156.5" x2="681" y2="156.5" stroke="#8f8f8f" stroke-width="0.5" />
<text x="486.4" y="158.1" font-size="4.55" text-anchor="end" fill="#111" stroke="#111" stroke-width="0.1" >50</text>
<line x1="488.8" y1="165" x2="681" y2="165" stroke="#8f8f8f" stroke-width="0.5" />
<text x="486.4" y="166.6" font-size="4.55" text-anchor="end" fill="#111" stroke="#111" stroke-width="0.1" >40</text>
<line x1="488.8" y1="173.6" x2="681" y2="173.6" stroke="#8f8f8f" stroke-width="0.5" />
<text x="486.4" y="175.2" font-size="4.55" text-anchor="end" fill="#111" stroke="#111" stroke-width="0.1" >30</text>
<line x1="488.8" y1="182.3" x2="681" y2="182.3" stroke="#8f8f8f" stroke-width="0.5" />
<text x="486.4" y="183.9" font-size="4.55" text-anchor="end" fill="#111" stroke="#111" stroke-width="0.1" >20</text>
<line x1="488.8" y1="190.9" x2="681" y2="190.9" stroke="#8f8f8f" stroke-width="0.5" />
<text x="486.4" y="192.5" font-size="4.55" text-anchor="end" fill="#111" stroke="#111" stroke-width="0.1" >10</text>
<line x1="488.8" y1="199.4" x2="681" y2="199.4" stroke="#8f8f8f" stroke-width="0.5" />
<text x="486.4" y="201.0" font-size="4.55" text-anchor="end" fill="#111" stroke="#111" stroke-width="0.1" >0</text>
<text x="488.8" y="205.6" font-size="4.5" text-anchor="middle" fill="#111" stroke="#111" stroke-width="0.1" >0</text>
<line x1="525.95" y1="150.5" x2="525.95" y2="199.4" stroke="#8f8f8f" stroke-width="0.5" />
<text x="525.95" y="205.6" font-size="4.5" text-anchor="middle" fill="#111" stroke="#111" stroke-width="0.1" >5</text>
<line x1="563.1" y1="150.5" x2="563.1" y2="199.4" stroke="#8f8f8f" stroke-width="0.5" />
<text x="563.1" y="205.6" font-size="4.5" text-anchor="middle" fill="#111" stroke="#111" stroke-width="0.1" >10</text>
<line x1="600.25" y1="150.5" x2="600.25" y2="199.4" stroke="#8f8f8f" stroke-width="0.5" />
<text x="600.25" y="205.6" font-size="4.5" text-anchor="middle" fill="#111" stroke="#111" stroke-width="0.1" >15</text>
<line x1="637.4" y1="150.5" x2="637.4" y2="199.4" stroke="#8f8f8f" stroke-width="0.5" />
<text x="637.4" y="205.6" font-size="4.5" text-anchor="middle" fill="#111" stroke="#111" stroke-width="0.1" >20</text>
<line x1="674.55" y1="150.5" x2="674.55" y2="199.4" stroke="#8f8f8f" stroke-width="0.5" />
<text x="674.55" y="205.6" font-size="4.5" text-anchor="middle" fill="#111" stroke="#111" stroke-width="0.1" >25</text>
<line x1="488.8" y1="150.2" x2="488.8" y2="199.7" stroke="#3a3a3a" stroke-width="0.8" />
<line x1="488.8" y1="199.4" x2="681" y2="199.4" stroke="#3a3a3a" stroke-width="0.9" />
<text x="585" y="209.6" font-size="4.6" text-anchor="middle" fill="#111" stroke="#111" stroke-width="0.1" >1/µm</text>
<polyline fill="none" stroke="#f05a5a" stroke-width="0.8" stroke-linejoin="round" points="488.7,199.4 490.8,197.3 492.0,191.7 493.6,150.5 495.2,183.6 496.5,194.1 497.6,172.3 499.2,194.1 500.8,177.2 502.5,196.5 503.8,182.8 504.9,185.2 506.5,198.2 508.1,190.1 509.4,197.3 511.3,194.1 513.0,198.5 515.4,197.8 518.6,197.3 521.0,197.8 523.5,196.5 524.8,194.6 526.4,198.2 529.1,199.0 532.3,194.9 534.0,198.5 536.4,199.0 538.0,197.8 539.6,199.0 542.5,196.2 544.5,198.5 547.7,199.1 552.5,198.8 555.8,199.1 557.4,198.5 559.0,199.1 565.5,199.1 568.7,198.8 571.9,199.1 580.0,199.1 586.0,198.8 592.0,199.0 598.0,198.8 604.0,198.8 610.0,198.9 616.0,199.0 622.0,198.8 628.0,198.8 634.0,198.8 640.0,199.1 646.0,199.1 652.0,199.0 658.0,198.9 664.0,199.0 670.0,199.1 676.0,198.9 681.0,198.9"/>
<text x="470.8" y="228.9" font-size="4.3" text-anchor="start" fill="#111" stroke="#111" stroke-width="0.1" textLength="48.9" lengthAdjust="spacingAndGlyphs">Line Histogram: Red  -  190</text>
<text x="485.2" y="241.9" font-size="4.4" text-anchor="middle" fill="#111" stroke="#111" stroke-width="0.1" >pxl</text>
<rect x="489.00" y="285" width="24.05" height="8.90" fill="#fa4e4e" stroke="#e23434" stroke-width="0.4"/>
<rect x="513.05" y="268.9" width="24.05" height="25.00" fill="#fa4e4e" stroke="#e23434" stroke-width="0.4"/>
<rect x="537.10" y="258.4" width="24.05" height="35.50" fill="#fa4e4e" stroke="#e23434" stroke-width="0.4"/>
<rect x="561.15" y="244.8" width="24.05" height="49.10" fill="#fa4e4e" stroke="#e23434" stroke-width="0.4"/>
<rect x="585.20" y="266" width="24.05" height="27.90" fill="#fa4e4e" stroke="#e23434" stroke-width="0.4"/>
<rect x="609.25" y="277" width="24.05" height="16.90" fill="#fa4e4e" stroke="#e23434" stroke-width="0.4"/>
<rect x="633.30" y="285" width="24.05" height="8.90" fill="#fa4e4e" stroke="#e23434" stroke-width="0.4"/>
<rect x="657.35" y="292.8" width="24.05" height="1.10" fill="#fa4e4e" stroke="#e23434" stroke-width="0.4"/>
<line x1="489" y1="253.4" x2="681.4" y2="253.4" stroke="#7a7a7a" stroke-width="0.5" opacity="0.7"/>
<text x="486.4" y="255.0" font-size="4.55" text-anchor="end" fill="#111" stroke="#111" stroke-width="0.1" >60</text>
<line x1="489" y1="266.9" x2="681.4" y2="266.9" stroke="#7a7a7a" stroke-width="0.5" opacity="0.7"/>
<text x="486.4" y="268.5" font-size="4.55" text-anchor="end" fill="#111" stroke="#111" stroke-width="0.1" >40</text>
<line x1="489" y1="280.4" x2="681.4" y2="280.4" stroke="#7a7a7a" stroke-width="0.5" opacity="0.7"/>
<text x="486.4" y="282.0" font-size="4.55" text-anchor="end" fill="#111" stroke="#111" stroke-width="0.1" >20</text>
<line x1="489" y1="293.9" x2="681.4" y2="293.9" stroke="#7a7a7a" stroke-width="0.5" opacity="0.7"/>
<text x="486.4" y="295.5" font-size="4.55" text-anchor="end" fill="#111" stroke="#111" stroke-width="0.1" >0</text>
<line x1="506.1" y1="244.8" x2="506.1" y2="293.9" stroke="#7a7a7a" stroke-width="0.5" opacity="0.7"/>
<text x="506.1" y="299.9" font-size="4.5" text-anchor="middle" fill="#111" stroke="#111" stroke-width="0.1" >-250</text>
<line x1="546.5" y1="244.8" x2="546.5" y2="293.9" stroke="#7a7a7a" stroke-width="0.5" opacity="0.7"/>
<text x="546.5" y="299.9" font-size="4.5" text-anchor="middle" fill="#111" stroke="#111" stroke-width="0.1" >0</text>
<line x1="586.3" y1="244.8" x2="586.3" y2="293.9" stroke="#7a7a7a" stroke-width="0.5" opacity="0.7"/>
<text x="586.3" y="299.9" font-size="4.5" text-anchor="middle" fill="#111" stroke="#111" stroke-width="0.1" >250</text>
<line x1="625.6" y1="244.8" x2="625.6" y2="293.9" stroke="#7a7a7a" stroke-width="0.5" opacity="0.7"/>
<text x="625.6" y="299.9" font-size="4.5" text-anchor="middle" fill="#111" stroke="#111" stroke-width="0.1" >500</text>
<line x1="665.2" y1="244.8" x2="665.2" y2="293.9" stroke="#7a7a7a" stroke-width="0.5" opacity="0.7"/>
<text x="665.2" y="299.9" font-size="4.5" text-anchor="middle" fill="#111" stroke="#111" stroke-width="0.1" >750</text>
<line x1="489" y1="244.5" x2="489" y2="294.2" stroke="#3a3a3a" stroke-width="0.8" />
<line x1="489" y1="293.9" x2="681.4" y2="293.9" stroke="#3a3a3a" stroke-width="0.9" />
<text x="585" y="304.4" font-size="4.6" text-anchor="middle" fill="#111" stroke="#111" stroke-width="0.1" >pm</text>
<text x="291.4" y="322" font-size="7.3" text-anchor="start" fill="#222" textLength="72.6" lengthAdjust="spacingAndGlyphs">Region Histogram: Red</text>
<text x="287.3" y="361.4" font-size="18.0" text-anchor="start" fill="#111" font-family='"Liberation Serif", serif' font-weight="bold" >(d)</text>
<line x1="337.2" y1="353" x2="636.6" y2="353" stroke="#9a9a9a" stroke-width="0.7" />
<text x="333.0" y="356.3" font-size="8.1" text-anchor="end" fill="#222" >1600</text>
<line x1="337.2" y1="374.2" x2="636.6" y2="374.2" stroke="#9a9a9a" stroke-width="0.7" />
<text x="333.0" y="377.5" font-size="8.1" text-anchor="end" fill="#222" >1200</text>
<line x1="337.2" y1="395.4" x2="636.6" y2="395.4" stroke="#9a9a9a" stroke-width="0.7" />
<text x="333.0" y="398.7" font-size="8.1" text-anchor="end" fill="#222" >800</text>
<line x1="337.2" y1="416.3" x2="636.6" y2="416.3" stroke="#9a9a9a" stroke-width="0.7" />
<text x="333.0" y="419.6" font-size="8.1" text-anchor="end" fill="#222" >400</text>
<text x="333.0" y="441.0" font-size="8.1" text-anchor="end" fill="#222" >0</text>
<line x1="357.0" y1="337.5" x2="357.0" y2="440.5" stroke="#9a9a9a" stroke-width="0.7" />
<text x="357.0" y="447.0" font-size="8.1" text-anchor="middle" fill="#222" >-1</text>
<line x1="411.7" y1="337.5" x2="411.7" y2="440.5" stroke="#9a9a9a" stroke-width="0.7" />
<text x="411.7" y="447.0" font-size="8.1" text-anchor="middle" fill="#222" >-0.5</text>
<line x1="467.0" y1="337.5" x2="467.0" y2="440.5" stroke="#9a9a9a" stroke-width="0.7" />
<text x="467.0" y="447.0" font-size="8.1" text-anchor="middle" fill="#222" >0</text>
<line x1="521.9" y1="337.5" x2="521.9" y2="440.5" stroke="#9a9a9a" stroke-width="0.7" />
<text x="521.9" y="447.0" font-size="8.1" text-anchor="middle" fill="#222" >0.5</text>
<line x1="576.7" y1="337.5" x2="576.7" y2="440.5" stroke="#9a9a9a" stroke-width="0.7" />
<text x="576.7" y="447.0" font-size="8.1" text-anchor="middle" fill="#222" >1</text>
<line x1="631.5" y1="337.5" x2="631.5" y2="440.5" stroke="#9a9a9a" stroke-width="0.7" />
<text x="631.5" y="447.0" font-size="8.1" text-anchor="middle" fill="#222" >1.5</text>
<line x1="337.2" y1="337.5" x2="337.2" y2="438.5" stroke="#7c7c7c" stroke-width="1.8" />
<line x1="336.3" y1="437.7" x2="636.6" y2="437.7" stroke="#777" stroke-width="1.6" />
<line x1="334.59999999999997" y1="353" x2="338.09999999999997" y2="353" stroke="#222" stroke-width="0.7" />
<line x1="334.59999999999997" y1="374.2" x2="338.09999999999997" y2="374.2" stroke="#222" stroke-width="0.7" />
<line x1="334.59999999999997" y1="395.4" x2="338.09999999999997" y2="395.4" stroke="#222" stroke-width="0.7" />
<line x1="334.59999999999997" y1="416.3" x2="338.09999999999997" y2="416.3" stroke="#222" stroke-width="0.7" />
<line x1="334.59999999999997" y1="437.7" x2="338.09999999999997" y2="437.7" stroke="#222" stroke-width="0.7" />
<text x="487" y="455" font-size="7.8" text-anchor="middle" fill="#222" >nm</text>
<text x="302.6" y="387.2" font-size="8.0" text-anchor="middle" fill="#222" transform="rotate(-90 302.6 387.2)" >pxl</text>
<polyline fill="none" stroke="#f25050" stroke-width="1.1" stroke-linejoin="round" points="337.2,437.6 357.0,437.4 370.8,436.0 387.9,432.7 403.3,424.9 420.4,407.7 437.5,378.6 454.7,356.4 470.2,338.2 486.7,343.4 503.8,363.9 521.6,394.0 538.1,416.3 554.2,430.7 569.6,435.9 585.0,437.5 636.6,437.6"/>
</svg></body></html>
